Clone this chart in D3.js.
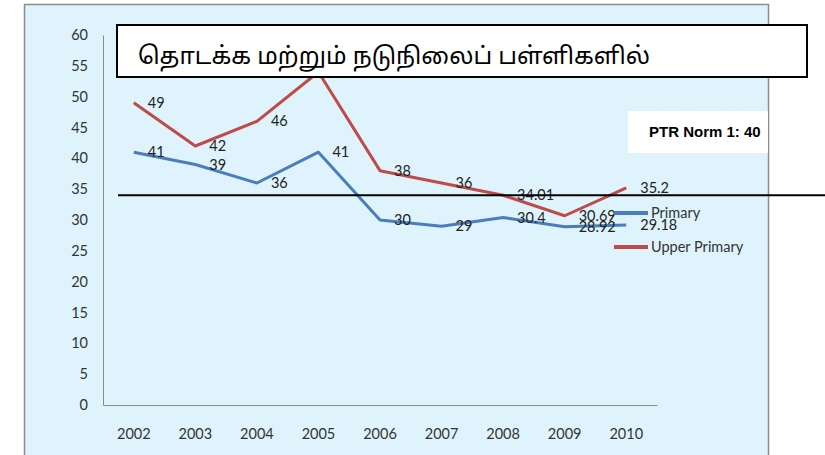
<!DOCTYPE html>
<html>
<head>
<meta charset="utf-8">
<script src="https://cdn.jsdelivr.net/npm/d3@7"></script>
<style>
  body { margin: 0; background: #fff; }
  svg { display: block; }
</style>
</head>
<body>
<div id="chart"></div>
<script>
// chart data
const years = ["2002", "2003", "2004", "2005", "2006", "2007", "2008", "2009", "2010"];
const primary = [41, 39, 36, 41, 30, 29, 30.4, 28.92, 29.18];
const upperPrimary = [49, 42, 46, 54, 38, 36, 34.01, 30.69, 35.2];
const yTicks = [0, 5, 10, 15, 20, 25, 30, 35, 40, 45, 50, 55, 60];
const normLevel = 34;
const titleText = "தொடக்க மற்றும் நடுநிலைப் பள்ளிகளில்";
const normText = "PTR Norm 1: 40";

const width = 825, height = 455;
const margin = { top: 35, left: 103, right: 168, bottom: 50 };

const svg = d3.select("#chart").append("svg")
  .attr("width", width)
  .attr("height", height);

// light blue chart area with grey frame
svg.append("rect")
  .attr("x", 24.5).attr("y", 4.5)
  .attr("width", 744).attr("height", 470)
  .attr("fill", "#def3fc")
  .attr("stroke", "#8c8c8c")
  .attr("stroke-width", 1.5);

const x = d3.scaleBand()
  .domain(years)
  .range([margin.left, width - margin.right]);

const y = d3.scaleLinear()
  .domain([0, 60])
  .range([405, 35]);

const font = "Lato, 'Open Sans', sans-serif";

// y axis
const yAxis = svg.append("g")
  .attr("transform", `translate(${margin.left},0)`)
  .call(d3.axisLeft(y).tickValues(yTicks).tickSize(0).tickPadding(15));
yAxis.select(".domain").attr("stroke", "#8c8c8c");
yAxis.selectAll("text")
  .attr("font-family", font)
  .attr("font-size", "14.5px")
  .attr("fill", "#333");

// x axis
const xAxis = svg.append("g")
  .attr("transform", `translate(0,${y(0)})`)
  .call(d3.axisBottom(x).tickSize(0).tickPadding(24));
xAxis.select(".domain").attr("stroke", "#8c8c8c");
xAxis.selectAll("text")
  .attr("font-family", font)
  .attr("font-size", "14.5px")
  .attr("fill", "#333");

const cx = d => x(d) + x.bandwidth() / 2;

const series = [
  { name: "Primary", values: primary, color: "#4a7ebb" },
  { name: "Upper Primary", values: upperPrimary, color: "#be4b48" }
];

const line = d3.line()
  .x((d, i) => cx(years[i]))
  .y(d => y(d));

series.forEach(s => {
  svg.append("path")
    .datum(s.values)
    .attr("fill", "none")
    .attr("stroke", s.color)
    .attr("stroke-width", 3)
    .attr("stroke-linejoin", "round")
    .attr("d", line);

  svg.append("g")
    .selectAll("text")
    .data(s.values)
    .enter()
    .append("text")
    .attr("x", (d, i) => cx(years[i]) + 14)
    .attr("y", d => y(d))
    .attr("dy", "0.35em")
    .attr("font-family", font)
    .attr("font-size", "14.5px")
    .attr("fill", "#222")
    .text(d => d);
});

// norm line
svg.append("line")
  .attr("x1", 118).attr("x2", width)
  .attr("y1", y(normLevel)).attr("y2", y(normLevel))
  .attr("stroke", "#000")
  .attr("stroke-width", 2);

// legend
const legend = svg.append("g");
series.forEach((s, i) => {
  const ly = 213 + i * 34;
  legend.append("line")
    .attr("x1", 614).attr("x2", 648)
    .attr("y1", ly).attr("y2", ly)
    .attr("stroke", s.color)
    .attr("stroke-width", 4);
  legend.append("text")
    .attr("x", 651).attr("y", ly)
    .attr("dy", "0.35em")
    .attr("font-family", font)
    .attr("font-size", "14.5px")
    .attr("fill", "#333")
    .text(s.name);
});

// title box
svg.append("rect")
  .attr("x", 117).attr("y", 25)
  .attr("width", 690).attr("height", 52)
  .attr("fill", "#fff")
  .attr("stroke", "#000")
  .attr("stroke-width", 2);
svg.append("text")
  .attr("x", 138).attr("y", 64)
  .attr("font-family", "'Noto Sans Tamil', 'Noto Sans', sans-serif")
  .attr("font-size", "24px")
  .attr("fill", "#000")
  .text(titleText);

// norm label box
svg.append("rect")
  .attr("x", 628).attr("y", 111)
  .attr("width", 140).attr("height", 42)
  .attr("fill", "#fff");
svg.append("text")
  .attr("x", 649).attr("y", 137)
  .attr("font-family", "'Liberation Sans', Arial, sans-serif")
  .attr("font-weight", "bold")
  .attr("font-size", "15px")
  .attr("fill", "#000")
  .text(normText);
</script>
</body>
</html>
